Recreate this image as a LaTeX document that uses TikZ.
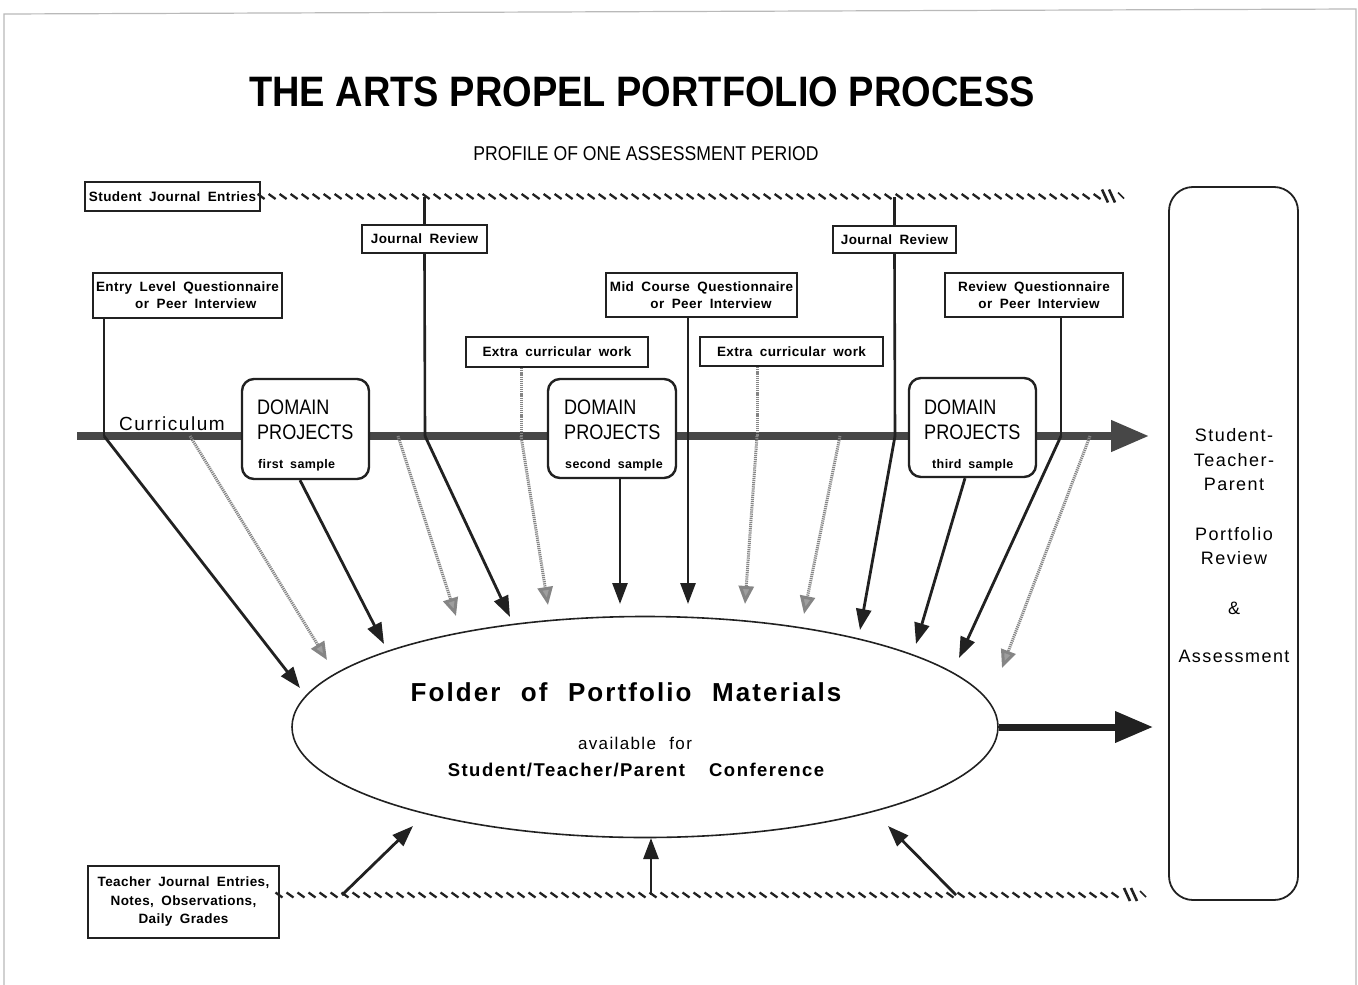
\documentclass[tikz,border=0pt]{standalone}
\usepackage{fontspec}
\setmainfont{Liberation Sans}
\newfontfamily\lblfont[WordSpace=1.8,LetterSpace=3]{Liberation Sans}
\newfontfamily\widefont[LetterSpace=8,WordSpace=1.5]{Liberation Sans}
\newfontfamily\folderfont[LetterSpace=8,WordSpace=2.2]{Liberation Sans}
\usetikzlibrary{arrows.meta,shapes.geometric,decorations.markings}

\definecolor{ink}{gray}{0.13}
\definecolor{bar}{gray}{0.28}
\definecolor{dotgray}{gray}{0.52}
\definecolor{dothead}{gray}{0.62}
\newcommand{\condensed}[1]{\scalebox{0.86}[1]{#1}}

\tikzset{
  lbl/.style={draw=ink, line width=2.2pt, fill=white, inner sep=0pt,
    font=\lblfont\fontsize{13.5}{17}\selectfont\bfseries},
  dombox/.style={draw=ink, line width=2.4pt, fill=white, rounded corners=12pt, inner sep=0pt},
  domtxt/.style={anchor=west, inner sep=0pt, font=\fontsize{21}{24}\selectfont},
  smptxt/.style={anchor=west, inner sep=0pt, font=\lblfont\fontsize{12.5}{15}\selectfont\bfseries},
  conn/.style={draw=ink, line width=2.6pt},
  solidarrow/.style={draw=ink, line width=2.8pt, -{Triangle[length=21pt,width=15pt]}},
  dotarrow/.style={draw=dotgray, line width=3pt, dash pattern=on 1.2pt off 0.9pt,
    -{Triangle[length=18pt,width=15pt,fill=dothead,color=dotgray]}},
  dotline/.style={draw=dotgray, line width=3pt, dash pattern=on 1.2pt off 0.9pt},
  hatchline/.style={decoration={markings,
      mark=between positions 0 and 1 step 11pt with {\draw[ink, line width=2.3pt] (-3.5pt,2.5pt) -- (3.5pt,-2.5pt);},
      mark=at position 1 with {
        \draw[ink, line width=2.6pt] (4pt,7pt) -- (10pt,-6pt);
        \draw[ink, line width=2.6pt] (11pt,7pt) -- (17pt,-6pt);
        \draw[ink, line width=1.6pt] (20pt,4pt) -- (26pt,-2pt);}},
    postaction=decorate},
}

\begin{document}
\begin{tikzpicture}[x=1pt,y=-1pt]
\useasboundingbox (0,0) rectangle (1358,985);

% page frame
\draw[gray!55, line width=1.2pt] (4,985) -- (4,14) -- (1356,9) -- (1356,985);

% headings
\node[inner sep=0pt, font=\fontsize{38}{44}\selectfont\bfseries] (title) at (642,92) {\scalebox{1}[1.12]{THE ARTS PROPEL PORTFOLIO PROCESS}};
\node[inner sep=0pt, font=\fontsize{20}{24}\selectfont] (subtitle) at (646,154) {\scalebox{0.88}[1]{PROFILE OF ONE ASSESSMENT PERIOD}};

% student journal and its hatched time line
\node[lbl, minimum width=175pt, minimum height=29pt] (sje) at (172.5,196.5) {Student Journal Entries};
\coordinate (sjeEnd) at (1098,196.5);
\path[hatchline] (sje.east) -- (sjeEnd);

% curriculum bar
\coordinate (cur0) at (77,436);
\coordinate (cur1) at (1149,436);
\draw[bar, line width=7.5pt, -{Triangle[length=38pt,width=30pt]}] (cur0) -- (cur1);
\node[inner sep=0pt, anchor=south west, font=\widefont\fontsize{19}{22}\selectfont] (curlbl) at (119,431) {Curriculum};

% top labels
\node[lbl, minimum width=125pt, minimum height=28pt] (jr1) at (424.5,239) {Journal Review};
\node[lbl, minimum width=123pt, minimum height=27pt] (jr2) at (894.5,239.5) {Journal Review};
\node[lbl, minimum width=189pt, minimum height=45pt, align=left] (elq) at (187.5,295.5) {Entry Level Questionnaire\\\hspace*{2.9em}or Peer Interview};
\node[lbl, minimum width=191pt, minimum height=44pt, align=left] (mcq) at (701.5,295) {Mid Course Questionnaire\\\hspace*{3em}or Peer Interview};
\node[lbl, minimum width=178pt, minimum height=44pt, align=left] (rvq) at (1034,295) {Review Questionnaire\\\hspace*{1.5em}or Peer Interview};
\node[lbl, minimum width=182pt, minimum height=30pt] (ec1) at (557,352) {Extra curricular work};
\node[lbl, minimum width=183pt, minimum height=29pt] (ec2) at (791.5,351.5) {Extra curricular work};

% named points on the curriculum bar and arrow tips
\coordinate (pElq) at (104,436);
\coordinate (pD1) at (190,436);
\coordinate (pD2) at (398,436);
\coordinate (pJr1) at (425,436);
\coordinate (pEc1) at (521,436);
\coordinate (pEc2) at (757,436);
\coordinate (pD5) at (840,436);
\coordinate (pJr2) at (895,436);
\coordinate (pRvq) at (1061,436);
\coordinate (pD6) at (1090,436);

\coordinate (tElq) at (300,688);
\coordinate (tD1) at (327,660);
\coordinate (tDom1) at (384,644);
\coordinate (tD2) at (456,616);
\coordinate (tJr1) at (510,617);
\coordinate (tEc1) at (548,605);
\coordinate (tDom2) at (620,604);
\coordinate (tMcq) at (688,604);
\coordinate (tEc2) at (745,604);
\coordinate (tD5) at (804,614);
\coordinate (tJr2) at (860,630);
\coordinate (tDom3) at (916,644);
\coordinate (tRvq) at (959,658);
\coordinate (tD6) at (1002,668);

% feeders into the curriculum bar
\draw[conn] (jr1.north) -- (jr1.north |- sje.east);
\draw[conn] (jr2.north) -- (jr2.north |- sje.east);
\draw[conn] (jr1.south) -- (pJr1);
\draw[conn] (jr2.south) -- (pJr2);
\draw[conn] (elq.south -| pElq) -- (pElq);
\draw[conn] (rvq.south -| pRvq) -- (pRvq);
\draw[dotline] (ec1.south -| pEc1) -- (pEc1);
\draw[dotline] (ec2.south -| pEc2) -- (pEc2);

% domain project boxes
\node[dombox, minimum width=127pt, minimum height=100pt] (dom1) at (305.5,429) {};
\node[dombox, minimum width=128pt, minimum height=99pt] (dom2) at (612,428.5) {};
\node[dombox, minimum width=127pt, minimum height=99pt] (dom3) at (972.5,427.5) {};
\node[domtxt] (dom1a) at (257,407) {\condensed{DOMAIN}};
\node[domtxt] (dom1b) at (257,432) {\condensed{PROJECTS}};
\node[smptxt] (dom1c) at (258,465) {first sample};
\node[domtxt] (dom2a) at (564,407) {\condensed{DOMAIN}};
\node[domtxt] (dom2b) at (564,432) {\condensed{PROJECTS}};
\node[smptxt] (dom2c) at (565,465) {second sample};
\node[domtxt] (dom3a) at (924,407) {\condensed{DOMAIN}};
\node[domtxt] (dom3b) at (924,432) {\condensed{PROJECTS}};
\node[smptxt] (dom3c) at (932,465) {third sample};

% folder ellipse
\node[ellipse, draw=ink, line width=1.6pt, minimum width=706pt, minimum height=221pt, inner sep=0pt] (folder) at (645,727) {};
\node[inner sep=0pt, font=\folderfont\fontsize{26}{30}\selectfont\bfseries] (ftitle) at (626,692) {Folder of Portfolio Materials};
\node[inner sep=0pt, font=\folderfont\fontsize{17}{20}\selectfont] (favail) at (635,743) {available for};
\node[inner sep=0pt, font=\widefont\fontsize{18.5}{22}\selectfont\bfseries] (fconf) at (636,770) {Student/Teacher/Parent\hspace{24pt}Conference};

% arrows into the folder
\draw[solidarrow] (pElq) -- (tElq);
\draw[solidarrow] (dom1.south -| 300,0) -- (tDom1);
\draw[solidarrow] (pJr1) -- (tJr1);
\draw[solidarrow] (dom2.south -| tDom2) -- (tDom2);
\draw[solidarrow] (mcq.south -| tMcq) -- (tMcq);
\draw[solidarrow] (pJr2) -- (tJr2);
\draw[solidarrow] (dom3.south -| 965,0) -- (tDom3);
\draw[solidarrow] (pRvq) -- (tRvq);

\draw[dotarrow] (pD1) -- (tD1);
\draw[dotarrow] (pD2) -- (tD2);
\draw[dotarrow] (pEc1) -- (tEc1);
\draw[dotarrow] (pEc2) -- (tEc2);
\draw[dotarrow] (pD5) -- (tD5);
\draw[dotarrow] (pD6) -- (tD6);

% review box on the right
\node[draw=ink, line width=1.8pt, rounded corners=24pt, minimum width=129pt, minimum height=713pt, inner sep=0pt] (review) at (1233.5,543.5) {};
\node[inner sep=0pt, align=center, font=\widefont\fontsize{18}{24.5}\selectfont] (revtxt) at (1234,546)
  {Student-\\Teacher-\\Parent\\[25pt]Portfolio\\Review\\[25pt]\&\\[24pt]Assessment};

% folder to review
\coordinate (revIn) at (1153,727);
\draw[ink, line width=7pt, -{Triangle[length=38pt,width=30pt]}] (folder.east) -- (revIn);

% teacher journal and its hatched time line
\node[lbl, minimum width=191pt, minimum height=72pt, align=center, font=\lblfont\fontsize{13.5}{18.5}\selectfont\bfseries] (tje) at (183.5,902) {Teacher Journal Entries,\\Notes, Observations,\\Daily Grades};
\coordinate (tjeLine) at (279,895);
\coordinate (tjeEnd) at (1120,895);
\path[hatchline] (tjeLine) -- (tjeEnd);

\coordinate (b1) at (342,895);
\coordinate (b2) at (651,895);
\coordinate (b3) at (956,895);
\coordinate (u1) at (413,826);
\coordinate (u2) at (651,838);
\coordinate (u3) at (888,826);
\draw[solidarrow] (b1) -- (u1);
\draw[solidarrow] (b2) -- (u2);
\draw[solidarrow] (b3) -- (u3);

\end{tikzpicture}
\end{document}
